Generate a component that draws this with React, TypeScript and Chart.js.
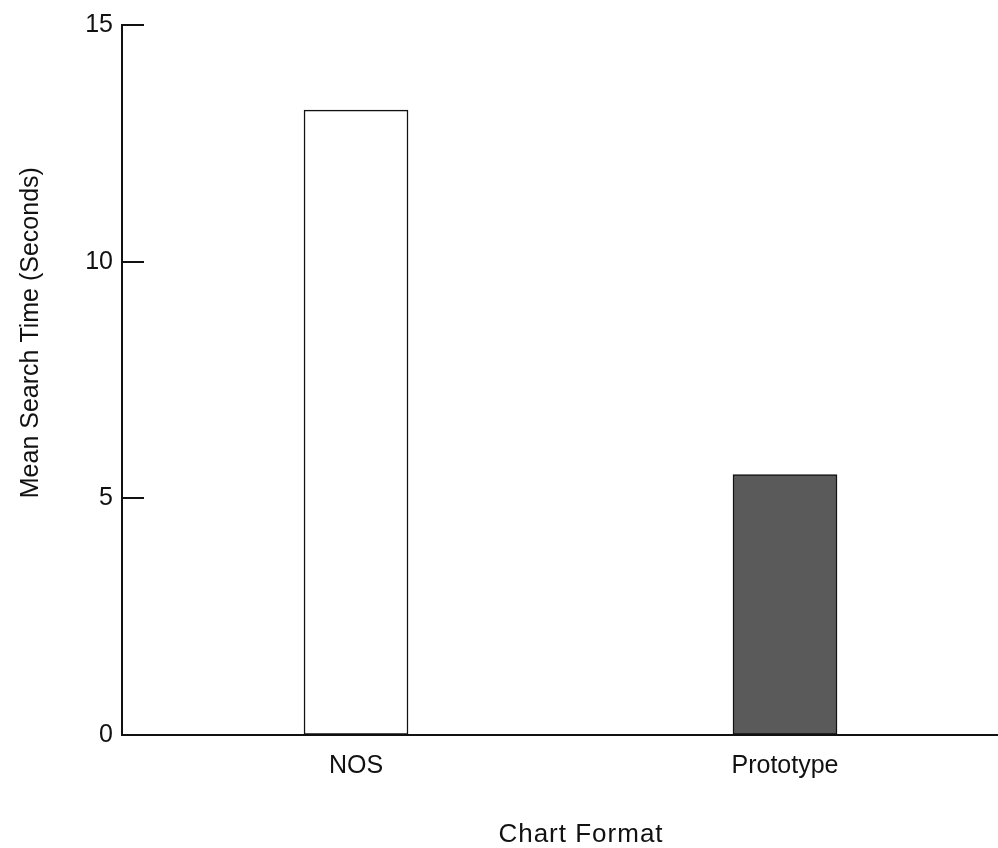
import React, { useEffect, useRef } from "react";
import { Chart, registerables } from "chart.js";

Chart.register(...registerables);

const categories: string[] = ["NOS", "Prototype"];
const meanSearchTime: number[] = [13.2, 5.5];
const barColors: string[] = ["#ffffff", "#5a5a5a"];
const yTicks: number[] = [0, 5, 10, 15];
const yTitle = "Mean Search Time (Seconds)";
const xTitle = "Chart Format";

const FONT = "'Liberation Sans', Arial, Helvetica, sans-serif";

const titlesPlugin = {
  id: "titlesPlugin",
  afterDraw(chart: any) {
    const { ctx, chartArea, scales } = chart;
    const y = scales.y;
    ctx.save();
    // inside tick marks
    ctx.strokeStyle = "#111";
    ctx.lineWidth = 2;
    yTicks.forEach((t) => {
      if (t === 0) return;
      const py = Math.round(y.getPixelForValue(t));
      ctx.beginPath();
      ctx.moveTo(chartArea.left, py);
      ctx.lineTo(chartArea.left + 22, py);
      ctx.stroke();
    });
    ctx.fillStyle = "#111";
    ctx.font = `25px ${FONT}`;
    ctx.textAlign = "center";
    ctx.textBaseline = "middle";
    // y title
    ctx.save();
    ctx.translate(31, y.getPixelForValue(8.5));
    ctx.rotate(-Math.PI / 2);
    ctx.fillText(yTitle, 0, 0);
    ctx.restore();
    // x title
    ctx.font = `26px ${FONT}`;
    try { (ctx as any).letterSpacing = "1px"; } catch (e) {}
    ctx.fillText(xTitle, 581, 835);
    ctx.restore();
  },
};

export default function App() {
  const ref = useRef<HTMLCanvasElement | null>(null);
  useEffect(() => {
    if (!ref.current) return;
    const chart = new Chart(ref.current, {
      type: "bar",
      data: {
        datasets: [
          {
            data: categories.map((c, i) => ({ x: i, y: meanSearchTime[i] })),
            backgroundColor: barColors,
            borderColor: "#111",
            borderWidth: 1.5,
            borderSkipped: false,
            barThickness: 104,
          } as any,
        ],
      },
      options: {
        animation: false,
        responsive: true,
        maintainAspectRatio: false,
        layout: { padding: { top: 25, right: 0, left: 0, bottom: 0 } },
        plugins: { legend: { display: false }, tooltip: { enabled: false } },
        scales: {
          x: {
            type: "linear",
            offset: false,
            min: -0.5455,
            max: 1.4965,
            afterBuildTicks: (scale: any) => {
              scale.ticks = categories.map((_, i) => ({ value: i }));
            },
            afterFit: (scale: any) => {
              scale.height = 113;
            },
            ticks: {
              callback: (v: any) => categories[Number(v)] ?? "",
              color: "#111",
              font: { family: FONT, size: 25, lineHeight: 1.2 },
              padding: 16,
              maxRotation: 0,
              autoSkip: false,
            },
            grid: { display: true, offset: false, drawOnChartArea: false, drawTicks: false },
            border: { display: true, color: "#111", width: 2 },
          },
          y: {
            min: 0,
            max: 15,
            afterBuildTicks: (scale: any) => {
              scale.ticks = yTicks.map((v) => ({ value: v }));
            },
            afterFit: (scale: any) => {
              scale.width = 122;
            },
            ticks: {
              color: "#111",
              font: { family: FONT, size: 25, lineHeight: 1.2 },
              padding: 9,
            },
            grid: { display: true, drawOnChartArea: false, drawTicks: false },
            border: { display: true, color: "#111", width: 2 },
          },
        },
      },
      plugins: [titlesPlugin],
    });
    return () => chart.destroy();
  }, []);
  return (
    <div style={{ position: "absolute", left: 0, top: 0, width: 998, height: 848, background: "#fff" }}>
      <canvas ref={ref} />
    </div>
  );
}
